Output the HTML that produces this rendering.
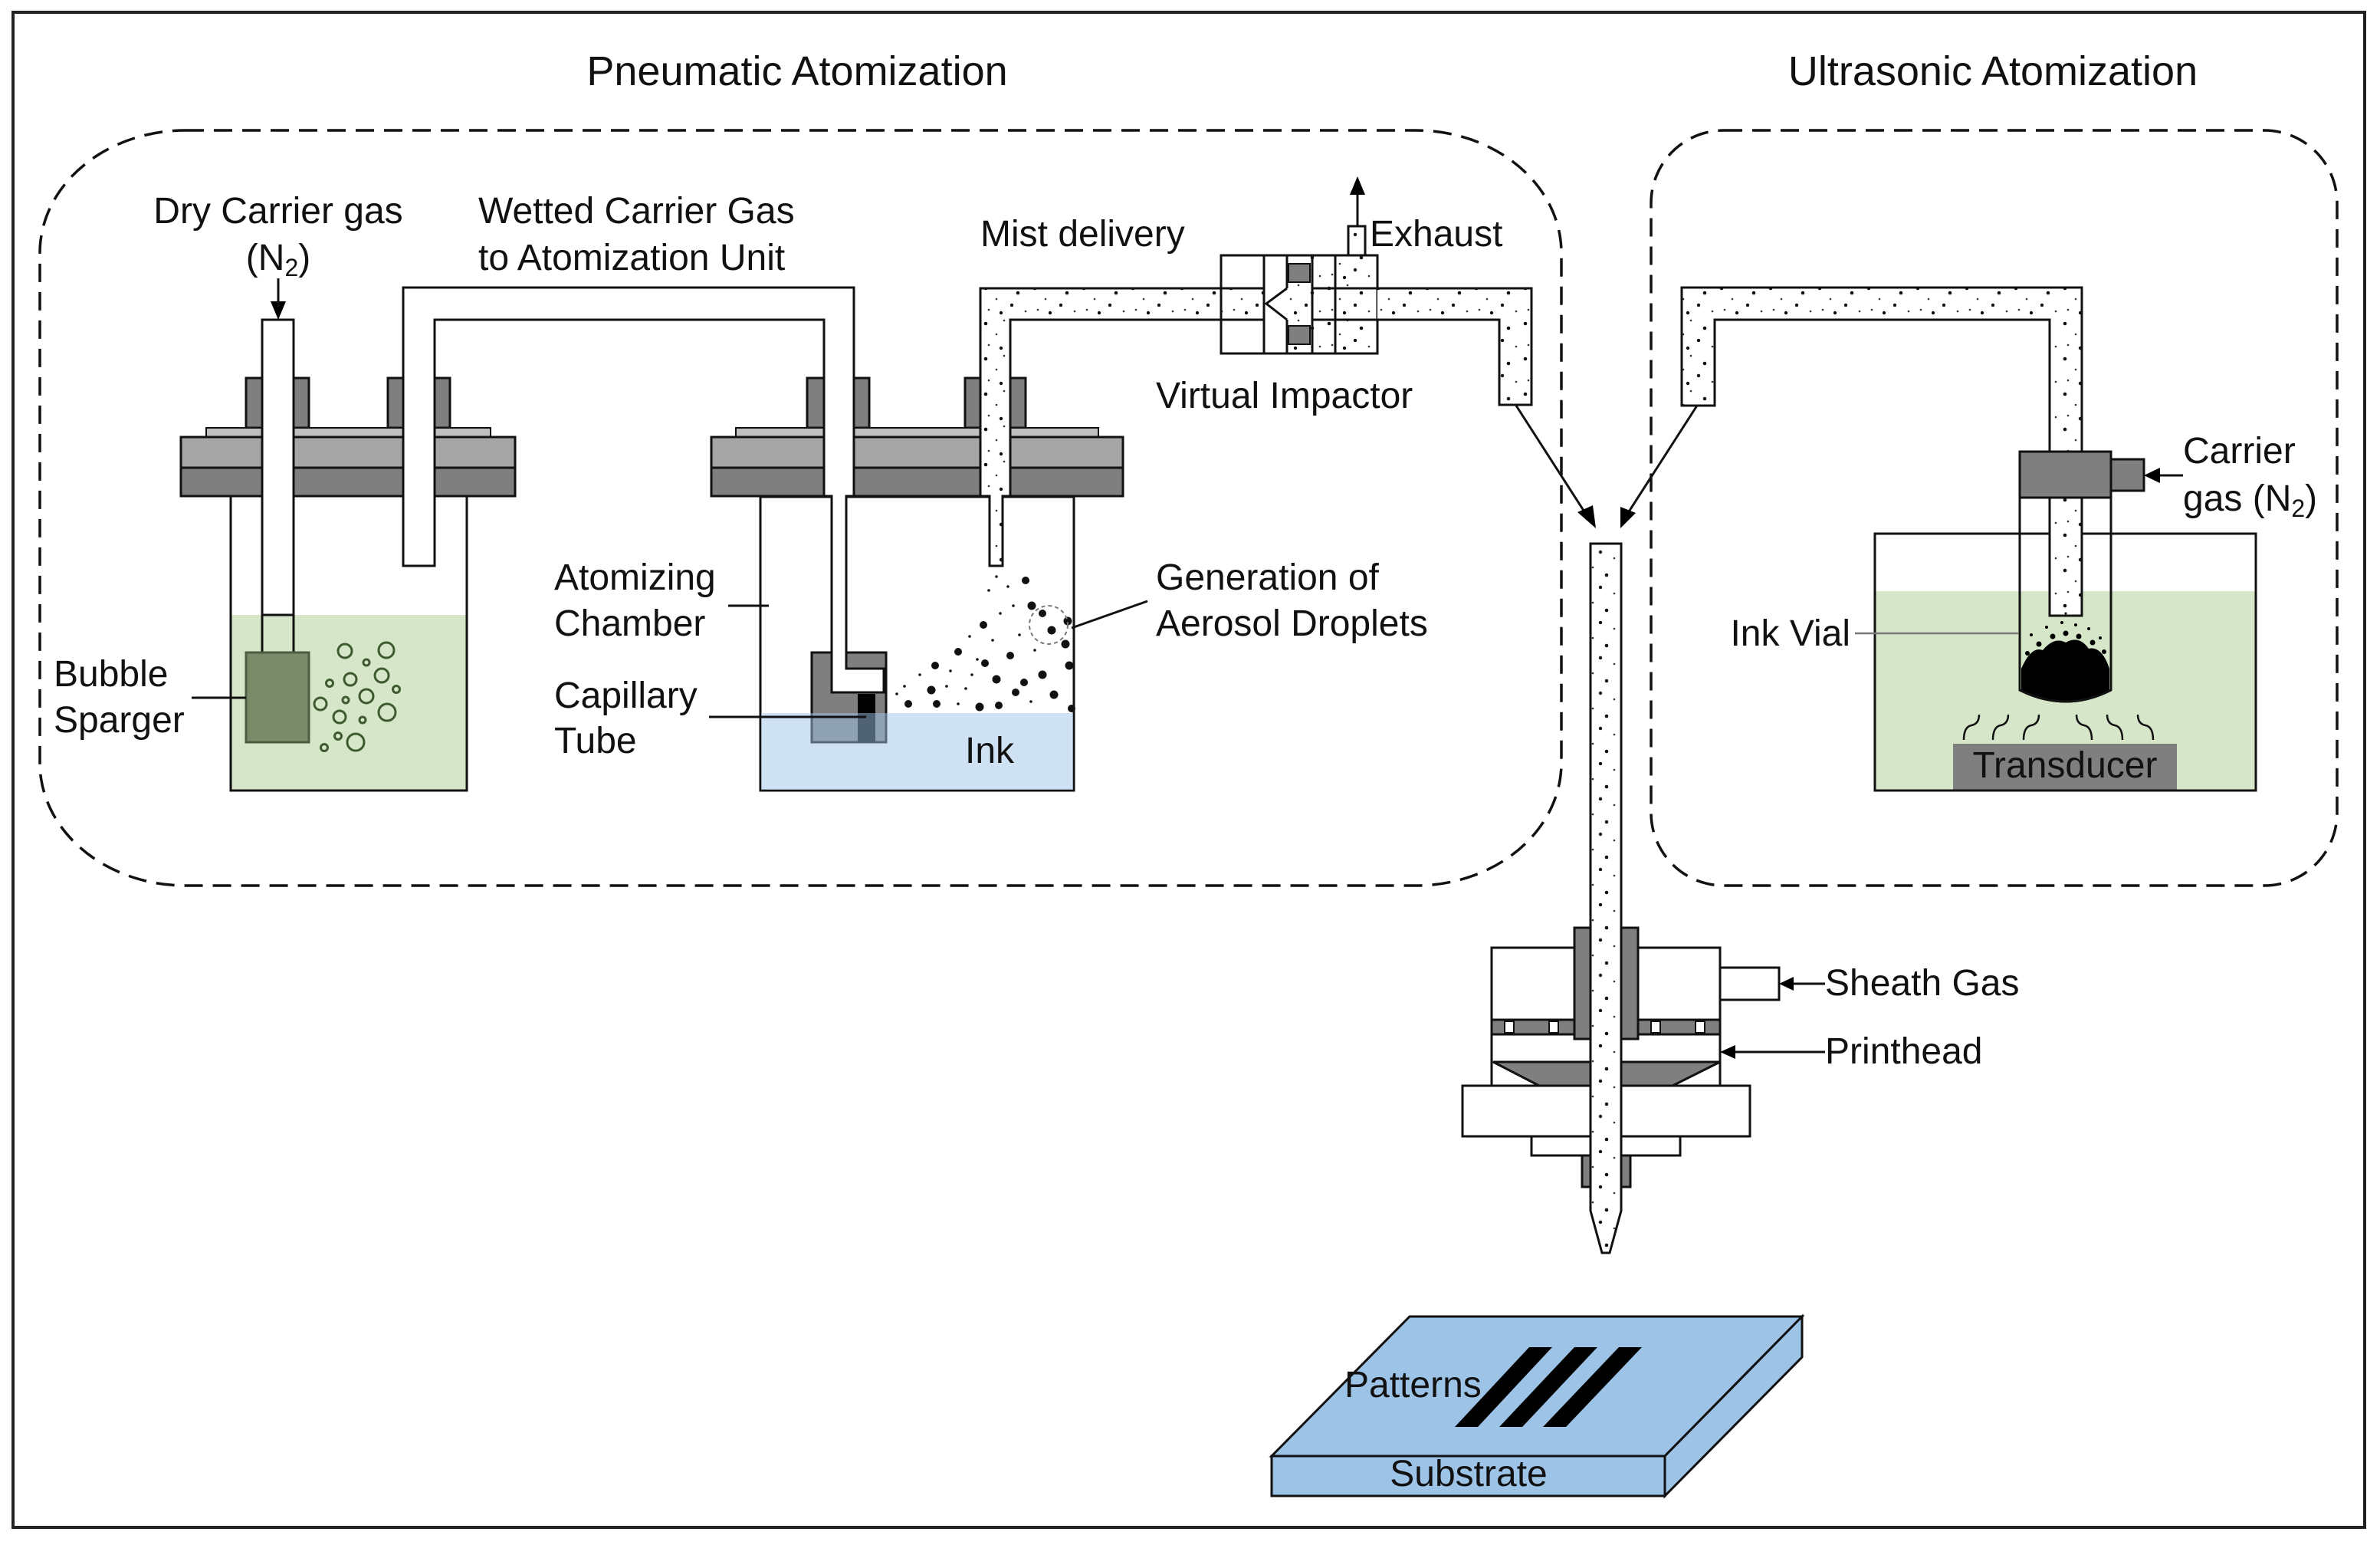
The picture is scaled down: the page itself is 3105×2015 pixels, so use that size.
<!DOCTYPE html>
<html><head><meta charset="utf-8"><style>
html,body{margin:0;padding:0;background:#fff;}
svg{display:block;}
text{font-family:"Liberation Sans",Arial,sans-serif;fill:#111;}
</style></head><body>
<svg width="3105" height="2015" viewBox="0 0 3105 2015" xmlns="http://www.w3.org/2000/svg">
<defs>
<pattern id="dots" width="64" height="46" patternUnits="userSpaceOnUse">
<rect width="64" height="46" fill="#fff"/>
<circle cx="6" cy="8" r="2.3" fill="#111"/><circle cx="30" cy="4" r="1.3" fill="#333"/>
<circle cx="48" cy="14" r="2.3" fill="#111"/><circle cx="20" cy="22" r="1.3" fill="#333"/>
<circle cx="40" cy="30" r="2.2" fill="#111"/><circle cx="10" cy="36" r="1.3" fill="#333"/>
<circle cx="58" cy="38" r="1.3" fill="#333"/><circle cx="26" cy="40" r="2.2" fill="#111"/>
</pattern>
</defs>

<rect x="17" y="16" width="3068" height="1976" fill="none" stroke="#222" stroke-width="4"/>

<text x="1040" y="111" font-size="54" text-anchor="middle">Pneumatic Atomization</text>
<text x="2600" y="111" font-size="54" text-anchor="middle">Ultrasonic Atomization</text>

<rect x="52" y="170" width="1985" height="985" rx="190" ry="160" fill="none" stroke="#111" stroke-width="3.5" stroke-dasharray="24 13"/>
<rect x="2154" y="170" width="895" height="985" rx="95" ry="95" fill="none" stroke="#111" stroke-width="3.5" stroke-dasharray="24 13"/>

<g stroke="#111" stroke-width="3">
<rect x="301" y="647" width="308" height="384" fill="#fff"/>
<rect x="302" y="802" width="306" height="228" fill="#d6e6c8" stroke="none"/>
<line x1="301" y1="1031" x2="609" y2="1031"/>
<line x1="301" y1="647" x2="301" y2="1031"/><line x1="609" y1="647" x2="609" y2="1031"/>
<rect x="321" y="493" width="82" height="65" fill="#7f7f7f"/>
<rect x="506" y="493" width="81" height="65" fill="#7f7f7f"/>
<rect x="269" y="558" width="371" height="12" fill="#bfbfbf" stroke-width="2"/>
<rect x="236" y="570" width="436" height="40" fill="#a6a6a6"/>
<rect x="236" y="610" width="436" height="37" fill="#7f7f7f"/>
<rect x="342" y="417" width="41" height="385" fill="#fff"/>
<rect x="342" y="802" width="41" height="49" fill="#d6e6c8"/>
<rect x="321" y="851" width="82" height="117" fill="#7a8b6a" stroke="#4d5c41"/>
<g fill="none" stroke="#3f5a30" stroke-width="3">
<circle cx="450" cy="849" r="9"/><circle cx="504" cy="848" r="10"/><circle cx="478" cy="864" r="4"/>
<circle cx="457" cy="886" r="8"/><circle cx="498" cy="881" r="9"/><circle cx="430" cy="891" r="4.5"/>
<circle cx="517" cy="899" r="4.5"/><circle cx="478" cy="908" r="9"/><circle cx="418" cy="918" r="8"/>
<circle cx="451" cy="913" r="4"/><circle cx="505" cy="929" r="11"/><circle cx="443" cy="935" r="8"/>
<circle cx="473" cy="939" r="4"/><circle cx="441" cy="960" r="4.5"/><circle cx="464" cy="968" r="11"/>
<circle cx="423" cy="975" r="4.5"/>
</g>

<rect x="992" y="648" width="409" height="383" fill="#fff"/>
<rect x="1059" y="851" width="97" height="117" fill="#7f7f7f"/>
<rect x="1119" y="905" width="23" height="63" fill="#000" stroke="none"/>
<rect x="993" y="930" width="407" height="100" fill="#9fc5e8" fill-opacity="0.5" stroke="none"/>
<rect x="1053" y="493" width="81" height="65" fill="#7f7f7f"/>
<rect x="1259" y="493" width="79" height="65" fill="#7f7f7f"/>
<rect x="960" y="558" width="473" height="12" fill="#bfbfbf" stroke-width="2"/>
<rect x="928" y="570" width="537" height="40" fill="#a6a6a6"/>
<rect x="928" y="610" width="537" height="37" fill="#7f7f7f"/>

<path d="M526,738 L526,375 L1114,375 L1114,647 L1104,647 L1104,872 L1153,872 L1153,903 L1085,903 L1085,647 L1075,647 L1075,417 L567,417 L567,738 Z" fill="#fff"/>
<path d="M1291,738 L1291,647 L1279,647 L1279,376 L1593,376 L1593,417 L1318,417 L1318,647 L1308,647 L1308,738 Z" fill="url(#dots)"/>

<g fill="#111" stroke="none">
<circle cx="1300" cy="752" r="1.8"/><circle cx="1290" cy="770" r="1.8"/><circle cx="1315" cy="765" r="1.8"/>
<circle cx="1338" cy="757" r="5"/><circle cx="1322" cy="790" r="1.8"/><circle cx="1346" cy="790" r="5.5"/>
<circle cx="1305" cy="800" r="1.8"/><circle cx="1283" cy="815" r="5"/><circle cx="1360" cy="800" r="5"/>
<circle cx="1372" cy="822" r="5.5"/><circle cx="1393" cy="810" r="5.5"/><circle cx="1390" cy="840" r="5.5"/>
<circle cx="1265" cy="830" r="1.8"/><circle cx="1295" cy="835" r="1.8"/><circle cx="1330" cy="828" r="1.8"/>
<circle cx="1250" cy="850" r="5"/><circle cx="1275" cy="860" r="1.8"/><circle cx="1318" cy="855" r="5"/>
<circle cx="1350" cy="848" r="1.8"/><circle cx="1395" cy="868" r="5.5"/><circle cx="1220" cy="868" r="5"/>
<circle cx="1240" cy="875" r="1.8"/><circle cx="1300" cy="886" r="5.5"/><circle cx="1360" cy="880" r="5.5"/>
<circle cx="1336" cy="890" r="5"/><circle cx="1200" cy="880" r="1.8"/><circle cx="1180" cy="895" r="1.8"/>
<circle cx="1215" cy="900" r="5.5"/><circle cx="1260" cy="898" r="1.8"/><circle cx="1325" cy="903" r="5"/>
<circle cx="1375" cy="906" r="5.5"/><circle cx="1185" cy="918" r="5"/><circle cx="1222" cy="918" r="5"/>
<circle cx="1278" cy="922" r="5.5"/><circle cx="1303" cy="920" r="5"/><circle cx="1398" cy="924" r="5"/>
<circle cx="1250" cy="918" r="1.8"/><circle cx="1170" cy="905" r="1.8"/><circle cx="1345" cy="915" r="1.8"/>
<circle cx="1235" cy="895" r="1.8"/><circle cx="1268" cy="880" r="1.8"/><circle cx="1285" cy="865" r="5"/>
</g>
<circle cx="1368" cy="815" r="25" fill="none" stroke="#777" stroke-width="2" stroke-dasharray="5 4"/>

<rect x="1593" y="333" width="204" height="128" fill="#fff"/>
<rect x="1712" y="333" width="85" height="128" fill="url(#dots)"/>
<rect x="1679" y="333" width="33" height="128" fill="url(#dots)" stroke="none"/>
<rect x="1681" y="344" width="28" height="24" fill="#7f7f7f" stroke-width="2"/>
<rect x="1681" y="425" width="28" height="24" fill="#7f7f7f" stroke-width="2"/>
<rect x="1593" y="376" width="56" height="41" fill="url(#dots)" stroke="none"/>
<line x1="1593" y1="376" x2="1649" y2="376"/><line x1="1593" y1="417" x2="1649" y2="417"/>
<line x1="1649" y1="333" x2="1649" y2="461"/>
<line x1="1679" y1="333" x2="1679" y2="376"/><line x1="1679" y1="417" x2="1679" y2="461"/>
<line x1="1712" y1="333" x2="1712" y2="461"/><line x1="1742" y1="333" x2="1742" y2="461"/>
<path d="M1679,376 L1652,396 L1679,417" fill="none"/>
<line x1="1712" y1="376" x2="1797" y2="376"/><line x1="1712" y1="417" x2="1797" y2="417"/>
<rect x="1593" y="333" width="204" height="128" fill="none"/>
<rect x="1759" y="295" width="22" height="38" fill="url(#dots)"/>
<line x1="1771" y1="295" x2="1771" y2="250"/>
<path d="M1797,376 L1998,376 L1998,528 L1956,528 L1956,417 L1797,417" fill="url(#dots)"/>

<line x1="1978" y1="529" x2="2070" y2="672"/>
<line x1="2214" y1="529" x2="2122" y2="672"/>

<path d="M2194,529 L2194,375 L2716,375 L2716,589 L2674,589 L2674,417 L2237,417 L2237,529 Z" fill="url(#dots)"/>
<rect x="2446" y="696" width="497" height="335" fill="#fff"/>
<rect x="2447" y="771" width="495" height="259" fill="#d6e6c8" stroke="none"/>
<rect x="2548" y="970" width="292" height="61" fill="#7f7f7f" stroke="none"/>
<rect x="2446" y="696" width="497" height="335" fill="none"/>
<path d="M2635,649 L2635,900 Q2695,930 2754,900 L2754,649" fill="none"/>
<rect x="2674" y="649" width="42" height="154" fill="url(#dots)"/>
<path d="M2637,872 Q2650,842 2665,848 Q2680,830 2695,838 Q2712,828 2725,846 Q2742,842 2752,872 L2752,902 Q2695,930 2637,902 Z" fill="#000" stroke="none"/>
<g fill="#000" stroke="none">
<circle cx="2645" cy="852" r="3"/><circle cx="2660" cy="840" r="3.5"/><circle cx="2678" cy="830" r="3.5"/>
<circle cx="2695" cy="826" r="3.5"/><circle cx="2712" cy="830" r="3.5"/><circle cx="2730" cy="838" r="3.5"/>
<circle cx="2745" cy="850" r="3"/><circle cx="2670" cy="818" r="2"/><circle cx="2690" cy="812" r="2"/>
<circle cx="2708" cy="815" r="2"/><circle cx="2725" cy="820" r="2"/><circle cx="2650" cy="828" r="2"/>
<circle cx="2740" cy="832" r="2"/><circle cx="2695" cy="800" r="1.5"/>
</g>
<path d="M2635,649 L2635,900 Q2695,930 2754,900 L2754,649" fill="none"/>
<rect x="2635" y="589" width="119" height="60" fill="#7f7f7f"/>
<rect x="2754" y="599" width="43" height="41" fill="#7f7f7f"/>
<line x1="2848" y1="620" x2="2800" y2="620"/>
<g fill="none" stroke-width="2.5">
<path d="M2562,965 Q2562,948 2572,946 Q2582,944 2582,932"/>
<path d="M2600,965 Q2600,948 2610,946 Q2620,944 2620,932"/>
<path d="M2640,965 Q2640,948 2650,946 Q2660,944 2660,932"/>
<path d="M2729,965 Q2729,948 2719,946 Q2709,944 2709,932"/>
<path d="M2769,965 Q2769,948 2759,946 Q2749,944 2749,932"/>
<path d="M2809,965 Q2809,948 2799,946 Q2789,944 2789,932"/>
</g>
<line x1="2420" y1="826" x2="2633" y2="826" stroke="#777" stroke-width="2.5"/>

<rect x="2064" y="1507" width="63" height="41" fill="#7f7f7f"/>
<rect x="1946" y="1236" width="298" height="180" fill="#fff"/>
<rect x="1946" y="1330" width="298" height="19" fill="#7f7f7f"/>
<g fill="#fff" stroke-width="2">
<rect x="1963" y="1332" width="12" height="15"/><rect x="2021" y="1332" width="12" height="15"/>
<rect x="2154" y="1332" width="12" height="15"/><rect x="2212" y="1332" width="12" height="15"/>
</g>
<rect x="2054" y="1210" width="21" height="145" fill="#7f7f7f"/>
<rect x="2115" y="1210" width="22" height="145" fill="#7f7f7f"/>
<polygon points="1948,1385 2075,1385 2075,1416 2008,1416" fill="#7f7f7f"/>
<polygon points="2115,1385 2244,1385 2182,1416 2115,1416" fill="#7f7f7f"/>
<rect x="2244" y="1262" width="77" height="42" fill="#fff"/>
<rect x="1908" y="1416" width="375" height="66" fill="#fff"/>
<rect x="1998" y="1482" width="194" height="25" fill="#fff"/>
<path d="M2075,709 L2115,709 L2115,1579 L2100,1634 L2090,1634 L2075,1579 Z" fill="url(#dots)"/>
<line x1="2381" y1="1283" x2="2326" y2="1283"/>
<line x1="2381" y1="1372" x2="2249" y2="1372"/>

<polygon points="1839,1717 2351,1717 2172,1899 1659,1899" fill="#9dc3e6"/>
<rect x="1659" y="1899" width="513" height="52" fill="#9dc3e6"/>
<polygon points="2172,1899 2351,1717 2351,1770 2172,1951" fill="#9dc3e6"/>
<g fill="#000" stroke="none">
<polygon points="1995,1757 2025,1757 1928,1861 1898,1861"/>
<polygon points="2054,1757 2084,1757 1986,1861 1956,1861"/>
<polygon points="2112,1757 2142,1757 2043,1861 2013,1861"/>
</g>

<line x1="250" y1="910" x2="321" y2="910"/>
<line x1="950" y1="790" x2="1003" y2="790"/>
<line x1="925" y1="935" x2="1130" y2="935"/>
<line x1="1398" y1="819" x2="1497" y2="784"/>
</g>

<g fill="#000">
<polygon points="363,417 353,393 373,393"/>
<line x1="363" y1="363" x2="363" y2="400" stroke="#111" stroke-width="3"/>
<polygon points="1771,230 1761,254 1781,254"/>
<polygon points="2082,689 2058,668 2078,659"/>
<polygon points="2114,689 2114,661 2134,669"/>
<polygon points="2797,620 2818,610 2818,630"/>
<polygon points="2321,1283 2340,1274 2340,1292"/>
<polygon points="2244,1372 2264,1363 2264,1381"/>
</g>

<g font-size="48">
<text x="363" y="291" text-anchor="middle">Dry Carrier gas</text>
<text x="363" y="352" text-anchor="middle">(N<tspan font-size="32" dy="8">2</tspan><tspan dy="-8">)</tspan></text>
<text x="624" y="291">Wetted Carrier Gas</text>
<text x="624" y="352">to Atomization Unit</text>
<text x="1279" y="321">Mist delivery</text>
<text x="1787" y="321">Exhaust</text>
<text x="1508" y="532">Virtual Impactor</text>
<text x="723" y="769">Atomizing</text>
<text x="723" y="829">Chamber</text>
<text x="723" y="923">Capillary</text>
<text x="723" y="982">Tube</text>
<text x="70" y="895">Bubble</text>
<text x="70" y="955">Sparger</text>
<text x="1259" y="995">Ink</text>
<text x="1508" y="769">Generation of</text>
<text x="1508" y="829">Aerosol Droplets</text>
<text x="2848" y="604">Carrier</text>
<text x="2848" y="666">gas (N<tspan font-size="32" dy="8">2</tspan><tspan dy="-8">)</tspan></text>
<text x="2414" y="842" text-anchor="end">Ink Vial</text>
<text x="2694" y="1014" text-anchor="middle">Transducer</text>
<text x="2381" y="1298">Sheath Gas</text>
<text x="2381" y="1387">Printhead</text>
<text x="1754" y="1822">Patterns</text>
<text x="1916" y="1938" text-anchor="middle">Substrate</text>
</g>
</svg>
</body></html>
